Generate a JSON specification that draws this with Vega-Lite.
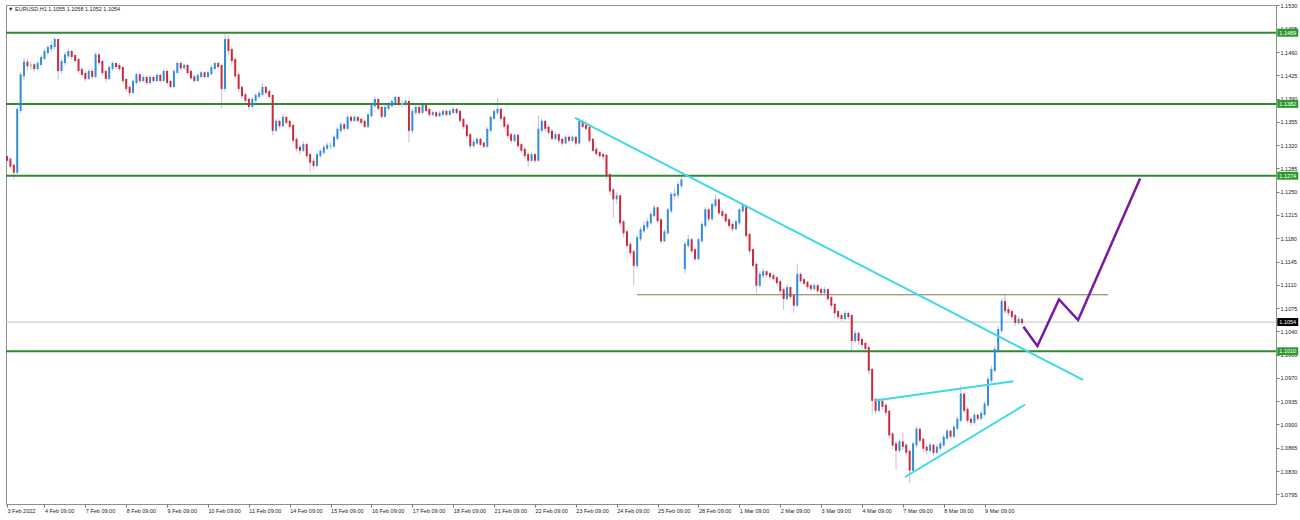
{
"$schema":"https://vega.github.io/schema/vega-lite/v6.json",
"width":1270,"height":499,"autosize":{"type":"none"},
"padding":{"left":6,"top":5,"right":24,"bottom":16},
"background":"white",
"config":{"view":{"stroke":"#8e8e8e","strokeWidth":1},"font":"Liberation Sans","axis":{"labelOverlap":false,"labelSeparation":0}},
"datasets":{
"candles":[
{"b":0,"o":1.1302,"h":1.1306,"l":1.1292,"c":1.1298},
{"b":2,"o":1.1298,"h":1.1301,"l":1.1285,"c":1.1289},
{"b":4,"o":1.1289,"h":1.1292,"l":1.1268,"c":1.1280},
{"b":6,"o":1.1280,"h":1.1378,"l":1.1276,"c":1.1373},
{"b":8,"o":1.1373,"h":1.1430,"l":1.1368,"c":1.1425},
{"b":10,"o":1.1425,"h":1.1452,"l":1.1418,"c":1.1444},
{"b":12,"o":1.1444,"h":1.1450,"l":1.1432,"c":1.1440},
{"b":14,"o":1.1440,"h":1.1446,"l":1.1433,"c":1.1440},
{"b":16,"o":1.1440,"h":1.1444,"l":1.1430,"c":1.1436},
{"b":18,"o":1.1436,"h":1.1447,"l":1.1432,"c":1.1442},
{"b":20,"o":1.1442,"h":1.1455,"l":1.1438,"c":1.1451},
{"b":22,"o":1.1451,"h":1.1465,"l":1.1447,"c":1.1460},
{"b":24,"o":1.1460,"h":1.1471,"l":1.1455,"c":1.1466},
{"b":26,"o":1.1466,"h":1.1476,"l":1.1460,"c":1.1469},
{"b":28,"o":1.1469,"h":1.1483,"l":1.1464,"c":1.1478},
{"b":30,"o":1.1478,"h":1.1480,"l":1.1418,"c":1.1433},
{"b":32,"o":1.1433,"h":1.1450,"l":1.1428,"c":1.1445},
{"b":34,"o":1.1445,"h":1.1460,"l":1.1440,"c":1.1455},
{"b":36,"o":1.1455,"h":1.1465,"l":1.1451,"c":1.1460},
{"b":38,"o":1.1460,"h":1.1463,"l":1.1449,"c":1.1454},
{"b":40,"o":1.1454,"h":1.1457,"l":1.1443,"c":1.1448},
{"b":42,"o":1.1448,"h":1.1451,"l":1.1428,"c":1.1433},
{"b":44,"o":1.1433,"h":1.1437,"l":1.1422,"c":1.1427},
{"b":46,"o":1.1427,"h":1.1431,"l":1.1416,"c":1.1421},
{"b":48,"o":1.1421,"h":1.1434,"l":1.1418,"c":1.1430},
{"b":50,"o":1.1430,"h":1.1435,"l":1.1419,"c":1.1424},
{"b":52,"o":1.1424,"h":1.1460,"l":1.1421,"c":1.1455},
{"b":54,"o":1.1455,"h":1.1458,"l":1.1440,"c":1.1445},
{"b":56,"o":1.1445,"h":1.1448,"l":1.1425,"c":1.1430},
{"b":58,"o":1.1430,"h":1.1433,"l":1.1415,"c":1.1421},
{"b":60,"o":1.1421,"h":1.1440,"l":1.1418,"c":1.1436},
{"b":62,"o":1.1436,"h":1.1446,"l":1.1432,"c":1.1442},
{"b":64,"o":1.1442,"h":1.1445,"l":1.1434,"c":1.1439},
{"b":66,"o":1.1439,"h":1.1443,"l":1.1431,"c":1.1436},
{"b":68,"o":1.1436,"h":1.1439,"l":1.1413,"c":1.1418},
{"b":70,"o":1.1418,"h":1.1421,"l":1.1400,"c":1.1406},
{"b":72,"o":1.1406,"h":1.1410,"l":1.1393,"c":1.1400},
{"b":74,"o":1.1400,"h":1.1419,"l":1.1397,"c":1.1415},
{"b":76,"o":1.1415,"h":1.1429,"l":1.1411,"c":1.1425},
{"b":78,"o":1.1425,"h":1.1428,"l":1.1413,"c":1.1418},
{"b":80,"o":1.1418,"h":1.1426,"l":1.1414,"c":1.1421},
{"b":82,"o":1.1421,"h":1.1424,"l":1.1410,"c":1.1415},
{"b":84,"o":1.1415,"h":1.1425,"l":1.1411,"c":1.1421},
{"b":86,"o":1.1421,"h":1.1424,"l":1.1414,"c":1.1418},
{"b":88,"o":1.1418,"h":1.1428,"l":1.1415,"c":1.1424},
{"b":90,"o":1.1424,"h":1.1427,"l":1.1414,"c":1.1418},
{"b":92,"o":1.1418,"h":1.1434,"l":1.1415,"c":1.1430},
{"b":94,"o":1.1430,"h":1.1433,"l":1.1410,"c":1.1415},
{"b":96,"o":1.1415,"h":1.1418,"l":1.1405,"c":1.1409},
{"b":98,"o":1.1409,"h":1.1434,"l":1.1406,"c":1.1430},
{"b":100,"o":1.1430,"h":1.1447,"l":1.1427,"c":1.1442},
{"b":102,"o":1.1442,"h":1.1446,"l":1.1432,"c":1.1437},
{"b":104,"o":1.1437,"h":1.1443,"l":1.1433,"c":1.1439},
{"b":106,"o":1.1439,"h":1.1442,"l":1.1426,"c":1.1430},
{"b":108,"o":1.1430,"h":1.1433,"l":1.1418,"c":1.1422},
{"b":110,"o":1.1422,"h":1.1426,"l":1.1414,"c":1.1418},
{"b":112,"o":1.1418,"h":1.1428,"l":1.1415,"c":1.1424},
{"b":114,"o":1.1424,"h":1.1432,"l":1.1420,"c":1.1428},
{"b":116,"o":1.1428,"h":1.1431,"l":1.1420,"c":1.1424},
{"b":118,"o":1.1424,"h":1.1432,"l":1.1421,"c":1.1428},
{"b":120,"o":1.1428,"h":1.1440,"l":1.1425,"c":1.1436},
{"b":122,"o":1.1436,"h":1.1446,"l":1.1432,"c":1.1442},
{"b":124,"o":1.1442,"h":1.1447,"l":1.1434,"c":1.1439},
{"b":126,"o":1.1439,"h":1.1442,"l":1.1375,"c":1.1406},
{"b":128,"o":1.1406,"h":1.1490,"l":1.1400,"c":1.1478},
{"b":130,"o":1.1478,"h":1.1486,"l":1.1455,"c":1.1463},
{"b":132,"o":1.1463,"h":1.1468,"l":1.1440,"c":1.1448},
{"b":134,"o":1.1448,"h":1.1452,"l":1.1420,"c":1.1425},
{"b":136,"o":1.1425,"h":1.1430,"l":1.1400,"c":1.1406},
{"b":138,"o":1.1406,"h":1.1410,"l":1.1390,"c":1.1395},
{"b":140,"o":1.1395,"h":1.1399,"l":1.1383,"c":1.1388},
{"b":142,"o":1.1388,"h":1.1392,"l":1.1373,"c":1.1379},
{"b":144,"o":1.1379,"h":1.1392,"l":1.1375,"c":1.1388},
{"b":146,"o":1.1388,"h":1.1398,"l":1.1384,"c":1.1394},
{"b":148,"o":1.1394,"h":1.1402,"l":1.1390,"c":1.1397},
{"b":150,"o":1.1397,"h":1.1414,"l":1.1393,"c":1.1406},
{"b":152,"o":1.1406,"h":1.1409,"l":1.1396,"c":1.1400},
{"b":154,"o":1.1400,"h":1.1404,"l":1.1389,"c":1.1394},
{"b":156,"o":1.1394,"h":1.1396,"l":1.1335,"c":1.1343},
{"b":158,"o":1.1343,"h":1.1360,"l":1.1340,"c":1.1355},
{"b":160,"o":1.1355,"h":1.1358,"l":1.1345,"c":1.1350},
{"b":162,"o":1.1350,"h":1.1366,"l":1.1347,"c":1.1361},
{"b":164,"o":1.1361,"h":1.1364,"l":1.1351,"c":1.1355},
{"b":166,"o":1.1355,"h":1.1358,"l":1.1344,"c":1.1349},
{"b":168,"o":1.1349,"h":1.1352,"l":1.1323,"c":1.1328},
{"b":170,"o":1.1328,"h":1.1332,"l":1.1310,"c":1.1316},
{"b":172,"o":1.1316,"h":1.1320,"l":1.1306,"c":1.1313},
{"b":174,"o":1.1313,"h":1.1326,"l":1.1309,"c":1.1320},
{"b":176,"o":1.1320,"h":1.1324,"l":1.1300,"c":1.1305},
{"b":178,"o":1.1305,"h":1.1309,"l":1.1280,"c":1.1295},
{"b":180,"o":1.1295,"h":1.1300,"l":1.1283,"c":1.1290},
{"b":182,"o":1.1290,"h":1.1309,"l":1.1287,"c":1.1305},
{"b":184,"o":1.1305,"h":1.1314,"l":1.1301,"c":1.1310},
{"b":186,"o":1.1310,"h":1.1320,"l":1.1306,"c":1.1316},
{"b":188,"o":1.1316,"h":1.1324,"l":1.1312,"c":1.1319},
{"b":190,"o":1.1319,"h":1.1325,"l":1.1314,"c":1.1319},
{"b":192,"o":1.1319,"h":1.1335,"l":1.1317,"c":1.1331},
{"b":194,"o":1.1331,"h":1.1347,"l":1.1328,"c":1.1343},
{"b":196,"o":1.1343,"h":1.1355,"l":1.1339,"c":1.1350},
{"b":198,"o":1.1350,"h":1.1354,"l":1.1341,"c":1.1346},
{"b":200,"o":1.1346,"h":1.1365,"l":1.1343,"c":1.1361},
{"b":202,"o":1.1361,"h":1.1364,"l":1.1354,"c":1.1358},
{"b":204,"o":1.1358,"h":1.1365,"l":1.1355,"c":1.1361},
{"b":206,"o":1.1361,"h":1.1363,"l":1.1354,"c":1.1358},
{"b":208,"o":1.1358,"h":1.1361,"l":1.1351,"c":1.1355},
{"b":210,"o":1.1355,"h":1.1358,"l":1.1345,"c":1.1349},
{"b":212,"o":1.1349,"h":1.1369,"l":1.1346,"c":1.1365},
{"b":214,"o":1.1365,"h":1.1384,"l":1.1362,"c":1.1380},
{"b":216,"o":1.1380,"h":1.1393,"l":1.1376,"c":1.1388},
{"b":218,"o":1.1388,"h":1.1391,"l":1.1372,"c":1.1376},
{"b":220,"o":1.1376,"h":1.1379,"l":1.1360,"c":1.1364},
{"b":222,"o":1.1364,"h":1.1380,"l":1.1361,"c":1.1376},
{"b":224,"o":1.1376,"h":1.1385,"l":1.1372,"c":1.1380},
{"b":226,"o":1.1380,"h":1.1389,"l":1.1377,"c":1.1385},
{"b":228,"o":1.1385,"h":1.1394,"l":1.1380,"c":1.1391},
{"b":230,"o":1.1391,"h":1.1393,"l":1.1378,"c":1.1382},
{"b":232,"o":1.1382,"h":1.1388,"l":1.1377,"c":1.1382},
{"b":234,"o":1.1382,"h":1.1390,"l":1.1379,"c":1.1385},
{"b":236,"o":1.1385,"h":1.1387,"l":1.1324,"c":1.1343},
{"b":238,"o":1.1343,"h":1.1374,"l":1.1338,"c":1.1370},
{"b":240,"o":1.1370,"h":1.1382,"l":1.1365,"c":1.1376},
{"b":242,"o":1.1376,"h":1.1380,"l":1.1366,"c":1.1370},
{"b":244,"o":1.1370,"h":1.1384,"l":1.1366,"c":1.1379},
{"b":246,"o":1.1379,"h":1.1382,"l":1.1369,"c":1.1373},
{"b":248,"o":1.1373,"h":1.1376,"l":1.1362,"c":1.1367},
{"b":250,"o":1.1367,"h":1.1372,"l":1.1363,"c":1.1368},
{"b":252,"o":1.1368,"h":1.1371,"l":1.1361,"c":1.1365},
{"b":254,"o":1.1365,"h":1.1371,"l":1.1362,"c":1.1367},
{"b":256,"o":1.1367,"h":1.1374,"l":1.1364,"c":1.1370},
{"b":258,"o":1.1370,"h":1.1373,"l":1.1363,"c":1.1367},
{"b":260,"o":1.1367,"h":1.1374,"l":1.1364,"c":1.1370},
{"b":262,"o":1.1370,"h":1.1377,"l":1.1367,"c":1.1373},
{"b":264,"o":1.1373,"h":1.1376,"l":1.1366,"c":1.1370},
{"b":266,"o":1.1370,"h":1.1372,"l":1.1354,"c":1.1358},
{"b":268,"o":1.1358,"h":1.1361,"l":1.1344,"c":1.1349},
{"b":270,"o":1.1349,"h":1.1352,"l":1.1330,"c":1.1335},
{"b":272,"o":1.1335,"h":1.1338,"l":1.1314,"c":1.1320},
{"b":274,"o":1.1320,"h":1.1329,"l":1.1316,"c":1.1324},
{"b":276,"o":1.1324,"h":1.1332,"l":1.1320,"c":1.1328},
{"b":278,"o":1.1328,"h":1.1331,"l":1.1318,"c":1.1322},
{"b":280,"o":1.1322,"h":1.1326,"l":1.1315,"c":1.1319},
{"b":282,"o":1.1319,"h":1.1347,"l":1.1316,"c":1.1343},
{"b":284,"o":1.1343,"h":1.1365,"l":1.1340,"c":1.1361},
{"b":286,"o":1.1361,"h":1.1374,"l":1.1357,"c":1.1370},
{"b":288,"o":1.1370,"h":1.1391,"l":1.1366,"c":1.1373},
{"b":290,"o":1.1373,"h":1.1376,"l":1.1356,"c":1.1361},
{"b":292,"o":1.1361,"h":1.1364,"l":1.1345,"c":1.1349},
{"b":294,"o":1.1349,"h":1.1352,"l":1.1330,"c":1.1335},
{"b":296,"o":1.1335,"h":1.1339,"l":1.1322,"c":1.1328},
{"b":298,"o":1.1328,"h":1.1338,"l":1.1324,"c":1.1334},
{"b":300,"o":1.1334,"h":1.1337,"l":1.1316,"c":1.1320},
{"b":302,"o":1.1320,"h":1.1324,"l":1.1308,"c":1.1313},
{"b":304,"o":1.1313,"h":1.1317,"l":1.1300,"c":1.1305},
{"b":306,"o":1.1305,"h":1.1309,"l":1.1288,"c":1.1298},
{"b":308,"o":1.1298,"h":1.1309,"l":1.1294,"c":1.1305},
{"b":310,"o":1.1305,"h":1.1308,"l":1.1293,"c":1.1298},
{"b":312,"o":1.1298,"h":1.1365,"l":1.1295,"c":1.1343},
{"b":314,"o":1.1343,"h":1.1360,"l":1.1338,"c":1.1355},
{"b":316,"o":1.1355,"h":1.1358,"l":1.1340,"c":1.1346},
{"b":318,"o":1.1346,"h":1.1350,"l":1.1335,"c":1.1340},
{"b":320,"o":1.1340,"h":1.1344,"l":1.1327,"c":1.1331},
{"b":322,"o":1.1331,"h":1.1340,"l":1.1327,"c":1.1335},
{"b":324,"o":1.1335,"h":1.1338,"l":1.1323,"c":1.1328},
{"b":326,"o":1.1328,"h":1.1331,"l":1.1319,"c":1.1324},
{"b":328,"o":1.1324,"h":1.1335,"l":1.1321,"c":1.1331},
{"b":330,"o":1.1331,"h":1.1334,"l":1.1324,"c":1.1328},
{"b":332,"o":1.1328,"h":1.1335,"l":1.1324,"c":1.1331},
{"b":334,"o":1.1331,"h":1.1334,"l":1.1319,"c":1.1324},
{"b":336,"o":1.1324,"h":1.1361,"l":1.1321,"c":1.1355},
{"b":338,"o":1.1355,"h":1.1359,"l":1.1345,"c":1.1349},
{"b":340,"o":1.1349,"h":1.1357,"l":1.1341,"c":1.1346},
{"b":342,"o":1.1346,"h":1.1349,"l":1.1323,"c":1.1328},
{"b":344,"o":1.1328,"h":1.1331,"l":1.1309,"c":1.1313},
{"b":346,"o":1.1313,"h":1.1317,"l":1.1304,"c":1.1308},
{"b":348,"o":1.1308,"h":1.1311,"l":1.1300,"c":1.1305},
{"b":350,"o":1.1305,"h":1.1309,"l":1.1298,"c":1.1304},
{"b":352,"o":1.1304,"h":1.1306,"l":1.1269,"c":1.1275},
{"b":354,"o":1.1275,"h":1.1278,"l":1.1245,"c":1.1252},
{"b":356,"o":1.1252,"h":1.1256,"l":1.1210,"c":1.1240},
{"b":358,"o":1.1240,"h":1.1250,"l":1.1232,"c":1.1243},
{"b":360,"o":1.1243,"h":1.1246,"l":1.1198,"c":1.1204},
{"b":362,"o":1.1204,"h":1.1208,"l":1.1182,"c":1.1189},
{"b":364,"o":1.1189,"h":1.1193,"l":1.1164,"c":1.1170},
{"b":366,"o":1.1170,"h":1.1175,"l":1.1152,"c":1.1159},
{"b":368,"o":1.1159,"h":1.1163,"l":1.1109,"c":1.1140},
{"b":370,"o":1.1140,"h":1.1185,"l":1.1135,"c":1.1180},
{"b":372,"o":1.1180,"h":1.1197,"l":1.1175,"c":1.1192},
{"b":374,"o":1.1192,"h":1.1205,"l":1.1188,"c":1.1198},
{"b":376,"o":1.1198,"h":1.1210,"l":1.1193,"c":1.1204},
{"b":378,"o":1.1204,"h":1.1220,"l":1.1200,"c":1.1215},
{"b":380,"o":1.1215,"h":1.1230,"l":1.1211,"c":1.1225},
{"b":382,"o":1.1225,"h":1.1228,"l":1.1202,"c":1.1207},
{"b":384,"o":1.1207,"h":1.1210,"l":1.1172,"c":1.1177},
{"b":386,"o":1.1177,"h":1.1194,"l":1.1174,"c":1.1189},
{"b":388,"o":1.1189,"h":1.1226,"l":1.1185,"c":1.1222},
{"b":390,"o":1.1222,"h":1.1250,"l":1.1218,"c":1.1245},
{"b":392,"o":1.1245,"h":1.1255,"l":1.1238,"c":1.1246},
{"b":394,"o":1.1246,"h":1.1265,"l":1.1240,"c":1.1260},
{"b":396,"o":1.1260,"h":1.1272,"l":1.1255,"c":1.1267},
{"b":398,"o":1.1135,"h":1.1175,"l":1.1127,"c":1.1170},
{"b":400,"o":1.1170,"h":1.1185,"l":1.1165,"c":1.1177},
{"b":402,"o":1.1177,"h":1.1180,"l":1.1157,"c":1.1162},
{"b":404,"o":1.1162,"h":1.1165,"l":1.1145,"c":1.1150},
{"b":406,"o":1.1150,"h":1.1181,"l":1.1147,"c":1.1177},
{"b":408,"o":1.1177,"h":1.1205,"l":1.1173,"c":1.1200},
{"b":410,"o":1.1200,"h":1.1227,"l":1.1196,"c":1.1222},
{"b":412,"o":1.1222,"h":1.1226,"l":1.1205,"c":1.1210},
{"b":414,"o":1.1210,"h":1.1234,"l":1.1206,"c":1.1230},
{"b":416,"o":1.1230,"h":1.1245,"l":1.1225,"c":1.1237},
{"b":418,"o":1.1237,"h":1.1240,"l":1.1214,"c":1.1219},
{"b":420,"o":1.1219,"h":1.1225,"l":1.1210,"c":1.1215},
{"b":422,"o":1.1215,"h":1.1219,"l":1.1203,"c":1.1207},
{"b":424,"o":1.1207,"h":1.1211,"l":1.1195,"c":1.1200},
{"b":426,"o":1.1200,"h":1.1204,"l":1.1190,"c":1.1195},
{"b":428,"o":1.1195,"h":1.1208,"l":1.1192,"c":1.1204},
{"b":430,"o":1.1204,"h":1.1226,"l":1.1200,"c":1.1222},
{"b":432,"o":1.1222,"h":1.1232,"l":1.1218,"c":1.1228},
{"b":434,"o":1.1228,"h":1.1230,"l":1.1180,"c":1.1185},
{"b":436,"o":1.1185,"h":1.1188,"l":1.1156,"c":1.1162},
{"b":438,"o":1.1162,"h":1.1166,"l":1.1134,"c":1.1140},
{"b":440,"o":1.1140,"h":1.1144,"l":1.1097,"c":1.1110},
{"b":442,"o":1.1110,"h":1.1130,"l":1.1106,"c":1.1125},
{"b":444,"o":1.1125,"h":1.1135,"l":1.1120,"c":1.1129},
{"b":446,"o":1.1129,"h":1.1132,"l":1.1121,"c":1.1126},
{"b":448,"o":1.1126,"h":1.1130,"l":1.1118,"c":1.1123},
{"b":450,"o":1.1123,"h":1.1127,"l":1.1115,"c":1.1120},
{"b":452,"o":1.1120,"h":1.1123,"l":1.1109,"c":1.1114},
{"b":454,"o":1.1114,"h":1.1117,"l":1.1097,"c":1.1102},
{"b":456,"o":1.1102,"h":1.1105,"l":1.1072,"c":1.1090},
{"b":458,"o":1.1090,"h":1.1110,"l":1.1086,"c":1.1105},
{"b":460,"o":1.1105,"h":1.1108,"l":1.1088,"c":1.1093},
{"b":462,"o":1.1093,"h":1.1096,"l":1.1068,"c":1.1080},
{"b":464,"o":1.1080,"h":1.1142,"l":1.1076,"c":1.1125},
{"b":466,"o":1.1125,"h":1.1129,"l":1.1112,"c":1.1117},
{"b":468,"o":1.1117,"h":1.1121,"l":1.1108,"c":1.1113},
{"b":470,"o":1.1113,"h":1.1116,"l":1.1103,"c":1.1108},
{"b":472,"o":1.1108,"h":1.1111,"l":1.1100,"c":1.1105},
{"b":474,"o":1.1105,"h":1.1112,"l":1.1101,"c":1.1108},
{"b":476,"o":1.1108,"h":1.1111,"l":1.1097,"c":1.1102},
{"b":478,"o":1.1102,"h":1.1106,"l":1.1094,"c":1.1099},
{"b":480,"o":1.1099,"h":1.1107,"l":1.1095,"c":1.1102},
{"b":482,"o":1.1102,"h":1.1105,"l":1.1085,"c":1.1090},
{"b":484,"o":1.1090,"h":1.1093,"l":1.1074,"c":1.1080},
{"b":486,"o":1.1080,"h":1.1083,"l":1.1060,"c":1.1069},
{"b":488,"o":1.1069,"h":1.1073,"l":1.1058,"c":1.1063},
{"b":490,"o":1.1063,"h":1.1067,"l":1.1055,"c":1.1060},
{"b":492,"o":1.1060,"h":1.1071,"l":1.1057,"c":1.1066},
{"b":494,"o":1.1066,"h":1.1070,"l":1.1058,"c":1.1063},
{"b":496,"o":1.1063,"h":1.1065,"l":1.1012,"c":1.1027},
{"b":498,"o":1.1027,"h":1.1042,"l":1.1022,"c":1.1036},
{"b":500,"o":1.1036,"h":1.1040,"l":1.1020,"c":1.1027},
{"b":502,"o":1.1027,"h":1.1031,"l":1.1015,"c":1.1021},
{"b":504,"o":1.1021,"h":1.1025,"l":1.1008,"c":1.1015},
{"b":506,"o":1.1015,"h":1.1018,"l":1.0975,"c":1.0982},
{"b":508,"o":1.0982,"h":1.0985,"l":1.0915,"c":1.0937},
{"b":510,"o":1.0937,"h":1.0940,"l":1.0915,"c":1.0922},
{"b":512,"o":1.0922,"h":1.0940,"l":1.0918,"c":1.0934},
{"b":514,"o":1.0934,"h":1.0938,"l":1.0922,"c":1.0928},
{"b":516,"o":1.0928,"h":1.0932,"l":1.0912,"c":1.0919},
{"b":518,"o":1.0919,"h":1.0922,"l":1.0878,"c":1.0885},
{"b":520,"o":1.0885,"h":1.0889,"l":1.0863,"c":1.0870},
{"b":522,"o":1.0870,"h":1.0875,"l":1.0832,"c":1.0862},
{"b":524,"o":1.0862,"h":1.0878,"l":1.0857,"c":1.0873},
{"b":526,"o":1.0873,"h":1.0888,"l":1.0862,"c":1.0868},
{"b":528,"o":1.0868,"h":1.0872,"l":1.0852,"c":1.0859},
{"b":530,"o":1.0859,"h":1.0862,"l":1.0812,"c":1.0832},
{"b":532,"o":1.0832,"h":1.0874,"l":1.0828,"c":1.0870},
{"b":534,"o":1.0870,"h":1.0897,"l":1.0865,"c":1.0892},
{"b":536,"o":1.0892,"h":1.0895,"l":1.0872,"c":1.0877},
{"b":538,"o":1.0877,"h":1.0880,"l":1.0858,"c":1.0865},
{"b":540,"o":1.0865,"h":1.0870,"l":1.0855,"c":1.0862},
{"b":542,"o":1.0862,"h":1.0873,"l":1.0858,"c":1.0868},
{"b":544,"o":1.0868,"h":1.0871,"l":1.0853,"c":1.0859},
{"b":546,"o":1.0859,"h":1.0870,"l":1.0855,"c":1.0865},
{"b":548,"o":1.0865,"h":1.0875,"l":1.0861,"c":1.0870},
{"b":550,"o":1.0870,"h":1.0885,"l":1.0866,"c":1.0880},
{"b":552,"o":1.0880,"h":1.0894,"l":1.0876,"c":1.0889},
{"b":554,"o":1.0889,"h":1.0892,"l":1.0878,"c":1.0883},
{"b":556,"o":1.0883,"h":1.0900,"l":1.0879,"c":1.0895},
{"b":558,"o":1.0895,"h":1.0912,"l":1.0891,"c":1.0907},
{"b":560,"o":1.0907,"h":1.0958,"l":1.0903,"c":1.0945},
{"b":562,"o":1.0945,"h":1.0948,"l":1.0917,"c":1.0922},
{"b":564,"o":1.0922,"h":1.0926,"l":1.0902,"c":1.0907},
{"b":566,"o":1.0907,"h":1.0911,"l":1.0898,"c":1.0904},
{"b":568,"o":1.0904,"h":1.0918,"l":1.0900,"c":1.0913},
{"b":570,"o":1.0913,"h":1.0916,"l":1.0905,"c":1.0910},
{"b":572,"o":1.0910,"h":1.0920,"l":1.0906,"c":1.0916},
{"b":574,"o":1.0916,"h":1.0935,"l":1.0912,"c":1.0930},
{"b":576,"o":1.0930,"h":1.0972,"l":1.0926,"c":1.0967},
{"b":578,"o":1.0967,"h":1.0988,"l":1.0962,"c":1.0982},
{"b":580,"o":1.0982,"h":1.1018,"l":1.0978,"c":1.1012},
{"b":582,"o":1.1012,"h":1.1048,"l":1.1008,"c":1.1042},
{"b":584,"o":1.1042,"h":1.1090,"l":1.1038,"c":1.1084},
{"b":586,"o":1.1084,"h":1.1096,"l":1.1066,"c":1.1072},
{"b":588,"o":1.1072,"h":1.1078,"l":1.1063,"c":1.1069},
{"b":590,"o":1.1069,"h":1.1073,"l":1.1058,"c":1.1063},
{"b":592,"o":1.1063,"h":1.1066,"l":1.1048,"c":1.1054},
{"b":594,"o":1.1054,"h":1.1063,"l":1.1050,"c":1.1057},
{"b":596,"o":1.1057,"h":1.1060,"l":1.1049,"c":1.1054}
],
"levels":[{"p":1.1489},{"p":1.1382},{"p":1.1274},{"p":1.1010}],
"current":[{"p":1.1054}],
"hline":[{"b":370,"p":1.1095},{"b":646.5,"p":1.1095}],
"trend":[
{"g":1,"b":333.5,"p":1.1361},{"g":1,"b":631.8,"p":1.0967},
{"g":2,"b":509.7,"p":1.0936},{"g":2,"b":590.9,"p":1.0965},
{"g":3,"b":527.3,"p":1.0821},{"g":3,"b":597.8,"p":1.0930}],
"proj":[{"b":596.8,"p":1.1047},{"b":605.0,"p":1.1018},{"b":617.7,"p":1.1088},{"b":628.9,"p":1.1057},{"b":665.3,"p":1.1270}],
"tags":[{"p":1.1489,"t":"1.1489","k":"g"},{"p":1.1382,"t":"1.1382","k":"g"},{"p":1.1274,"t":"1.1274","k":"g"},{"p":1.1010,"t":"1.1010","k":"g"},{"p":1.1054,"t":"1.1054","k":"k"}],
"header":[{"t":"▼ EURUSD,H1  1.1055 1.1058 1.1052 1.1054"}]
},
"layer":[
{"data":{"name":"candles"},
 "mark":{"type":"rule","strokeWidth":1,"color":"#c6bde2"},
 "encoding":{
  "x":{"field":"b","type":"quantitative","scale":{"domain":[-0.59,745.1],"nice":false,"zero":false},
   "axis":{"orient":"bottom","title":null,"domain":false,"grid":false,"tickSize":3,"tickColor":"#777777","labelFontSize":5.5,"labelColor":"#222222","labelAlign":"left","labelPadding":1,"labelOverlap":false,"labelFlush":false,"labelBound":false,"tickCount":60,
    "values":[0,22,46,70,94,118,142,166,190,214,238,262,286,310,334,358,382,406,430,454,478,502,526,550,574],
    "labelExpr":"datum.value == 0 ? '3 Feb 2022' : ['4 Feb','7 Feb','8 Feb','9 Feb','10 Feb','11 Feb','14 Feb','15 Feb','16 Feb','17 Feb','18 Feb','21 Feb','22 Feb','23 Feb','24 Feb','25 Feb','28 Feb','1 Mar','2 Mar','3 Mar','4 Mar','7 Mar','8 Mar','9 Mar'][(datum.value - 22) / 24] + ' 09:00'"}},
  "y":{"field":"l","type":"quantitative","scale":{"domain":[1.07804,1.15307],"nice":false,"zero":false},
   "axis":{"orient":"right","title":null,"domain":false,"grid":false,"tickSize":3,"tickColor":"#777777","labelFontSize":5.5,"labelColor":"#222222","labelPadding":1,"labelOverlap":false,"labelFlush":false,"labelBound":false,"format":".4f","tickCount":60,
    "values":[1.0795,1.0830,1.0865,1.0900,1.0935,1.0970,1.1005,1.1040,1.1075,1.1110,1.1145,1.1180,1.1215,1.1250,1.1285,1.1320,1.1355,1.1390,1.1425,1.1460,1.1495,1.1530]}},
  "y2":{"field":"h"}}},
{"data":{"name":"current"},
 "mark":{"type":"rule","strokeWidth":1,"color":"#c4c4c4"},
 "encoding":{"y":{"field":"p","type":"quantitative","scale":{"domain":[1.07804,1.15307],"nice":false,"zero":false},"axis":{"title":null}}}},
{"data":{"name":"levels"},
 "mark":{"type":"rule","strokeWidth":2,"color":"#2f8a2f"},
 "encoding":{"y":{"field":"p","type":"quantitative","scale":{"domain":[1.07804,1.15307],"nice":false,"zero":false},"axis":{"title":null}}}},
{"data":{"name":"hline"},
 "mark":{"type":"line","strokeWidth":1,"color":"#77774a"},
 "encoding":{"x":{"field":"b","type":"quantitative","scale":{"domain":[-0.59,745.1],"nice":false,"zero":false},"axis":{"title":null}},
  "y":{"field":"p","type":"quantitative","scale":{"domain":[1.07804,1.15307],"nice":false,"zero":false},"axis":{"title":null}}}},
{"data":{"name":"candles"},
 "mark":{"type":"rule","strokeWidth":2,"strokeCap":"square"},
 "encoding":{
  "x":{"field":"b","type":"quantitative","scale":{"domain":[-0.59,745.1],"nice":false,"zero":false},"axis":{"title":null}},
  "y":{"field":"o","type":"quantitative","scale":{"domain":[1.07804,1.15307],"nice":false,"zero":false},"axis":{"title":null}},
  "y2":{"field":"c"},
  "color":{"condition":[{"test":"datum.c > datum.o","value":"#2f8de0"},{"test":"datum.c < datum.o","value":"#cc2a3a"}],"value":"#7cd67c"}}},
{"data":{"name":"trend"},
 "mark":{"type":"line","strokeWidth":2,"color":"#3fd9e6"},
 "encoding":{"x":{"field":"b","type":"quantitative","scale":{"domain":[-0.59,745.1],"nice":false,"zero":false},"axis":{"title":null}},
  "y":{"field":"p","type":"quantitative","scale":{"domain":[1.07804,1.15307],"nice":false,"zero":false},"axis":{"title":null}},
  "detail":{"field":"g"}}},
{"data":{"name":"proj"},
 "mark":{"type":"line","strokeWidth":2.5,"color":"#7a18a6"},
 "encoding":{"x":{"field":"b","type":"quantitative","scale":{"domain":[-0.59,745.1],"nice":false,"zero":false},"axis":{"title":null}},
  "y":{"field":"p","type":"quantitative","scale":{"domain":[1.07804,1.15307],"nice":false,"zero":false},"axis":{"title":null}}}},
{"data":{"name":"tags"},
 "mark":{"type":"tick","orient":"horizontal","size":21,"thickness":8,"opacity":1},
 "encoding":{"x":{"datum":752,"type":"quantitative","scale":{"domain":[-0.59,745.1],"nice":false,"zero":false},"axis":{"title":null}},
  "y":{"field":"p","type":"quantitative","scale":{"domain":[1.07804,1.15307],"nice":false,"zero":false},"axis":{"title":null}},
  "color":{"condition":{"test":"datum.k == 'g'","value":"#2e9a2e"},"value":"#000000"}}},
{"data":{"name":"tags"},
 "mark":{"type":"text","fontSize":5.5,"color":"#ffffff","align":"center","baseline":"middle"},
 "encoding":{"x":{"datum":752,"type":"quantitative","scale":{"domain":[-0.59,745.1],"nice":false,"zero":false},"axis":{"title":null}},
  "y":{"field":"p","type":"quantitative","scale":{"domain":[1.07804,1.15307],"nice":false,"zero":false},"axis":{"title":null}},
  "text":{"field":"t"}}},
{"data":{"name":"header"},
 "mark":{"type":"text","fontSize":5.5,"color":"#222222","align":"left","baseline":"middle"},
 "encoding":{"x":{"datum":0.6,"type":"quantitative","scale":{"domain":[-0.59,745.1],"nice":false,"zero":false},"axis":{"title":null}},
  "y":{"datum":1.15245,"type":"quantitative","scale":{"domain":[1.07804,1.15307],"nice":false,"zero":false},"axis":{"title":null}},
  "text":{"field":"t"}}}
]
}
